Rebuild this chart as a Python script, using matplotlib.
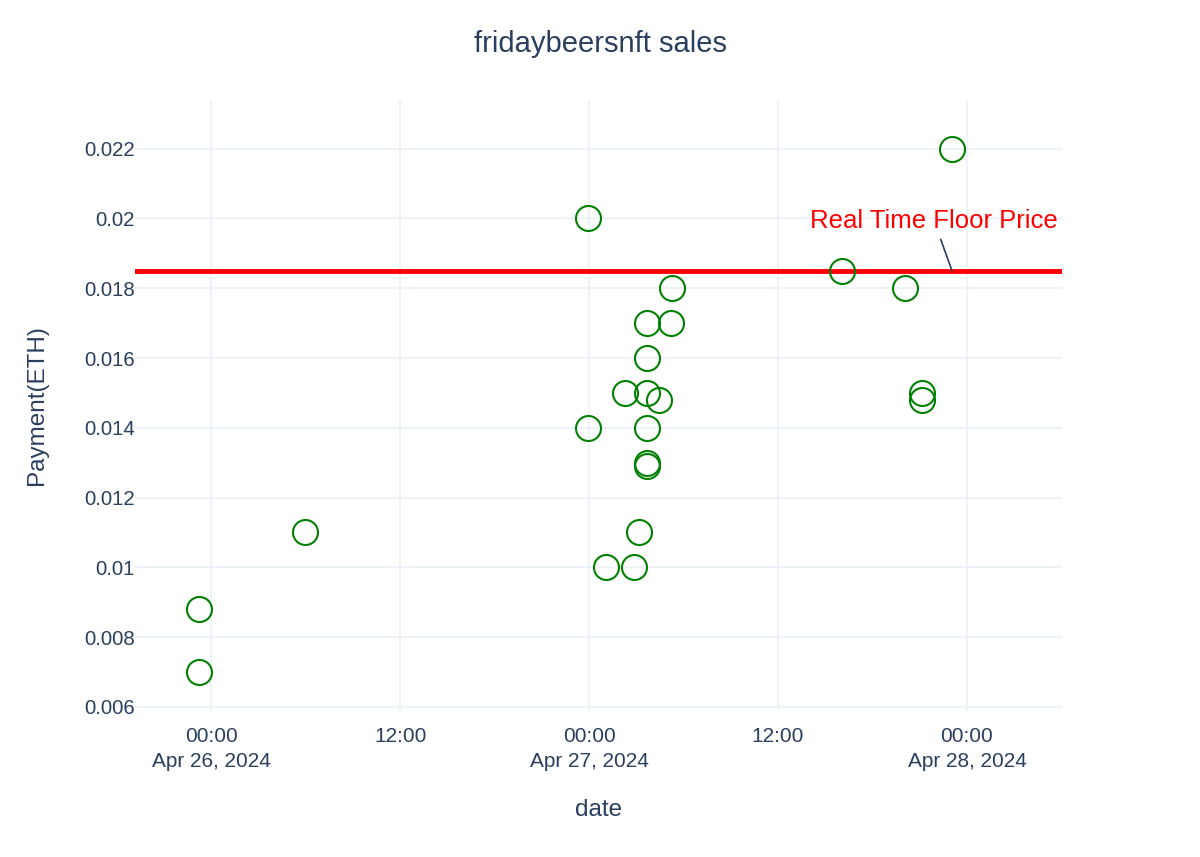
import pandas as pd
import matplotlib
matplotlib.use("Agg")
import matplotlib.pyplot as plt

plt.rcParams["font.family"] = ["Liberation Sans", "DejaVu Sans"]

sale_times = [
    "2024-04-25 23:14", "2024-04-25 23:14", "2024-04-26 05:58",
    "2024-04-26 23:56", "2024-04-26 23:56", "2024-04-27 01:05",
    "2024-04-27 02:17", "2024-04-27 02:52", "2024-04-27 03:10",
    "2024-04-27 03:41", "2024-04-27 03:41", "2024-04-27 03:41",
    "2024-04-27 03:41", "2024-04-27 03:41", "2024-04-27 03:41",
    "2024-04-27 04:27", "2024-04-27 05:16", "2024-04-27 05:14",
    "2024-04-27 16:04", "2024-04-27 20:04", "2024-04-27 21:08",
    "2024-04-27 21:08", "2024-04-27 23:03",
]
payments = [
    0.0088, 0.007, 0.011,
    0.020, 0.014, 0.010,
    0.015, 0.010, 0.011,
    0.017, 0.016, 0.015,
    0.014, 0.013, 0.0129,
    0.0148, 0.018, 0.017,
    0.0185, 0.018, 0.015,
    0.0148, 0.022,
]
floor_price = 0.0185
y_ticks = [0.006, 0.008, 0.01, 0.012, 0.014, 0.016, 0.018, 0.02, 0.022]
y_tick_labels = ["0.006", "0.008", "0.01", "0.012", "0.014", "0.016", "0.018", "0.02", "0.022"]

INK = "#2a3f5f"
GRID = "#ebf0f8"

t = pd.to_datetime(sale_times)

fig = plt.figure(figsize=(12, 8.57), dpi=100)
ax = fig.add_axes([0.1125, 0.1715, 0.7725, 0.712])

ax.plot(t, payments, linestyle="none", marker="o", markersize=18,
        markerfacecolor="none", markeredgecolor="green", markeredgewidth=1.5,
        zorder=3)

x0 = pd.Timestamp("2024-04-25 19:10")
x1 = pd.Timestamp("2024-04-28 06:02")
ax.axhline(floor_price, color="red", linewidth=3.5, zorder=2)
ax.set_xlim(x0, x1)
ax.set_ylim(0.00591, 0.0234)

ax.annotate("Real Time Floor Price",
            xy=(pd.Timestamp("2024-04-27 23:03"), floor_price),
            xytext=(pd.Timestamp("2024-04-27 21:54"), 0.01994),
            textcoords="data", ha="center", va="center",
            color="red", fontsize=18.5,
            arrowprops=dict(arrowstyle="-", color=INK, linewidth=1.2,
                            shrinkA=3, shrinkB=0),
            zorder=4)

ax.set_yticks(y_ticks)
ax.set_yticklabels(y_tick_labels)

ticks = pd.date_range("2024-04-26", "2024-04-28", freq="12h")
ax.set_xticks(ticks)
ax.set_xticklabels([
    ts.strftime("%H:%M") + ("\n" + ts.strftime("%b %d, %Y") if ts.hour == 0 else "")
    for ts in ticks
], linespacing=1.45)

ax.grid(True, color=GRID, linewidth=1.2)
ax.set_axisbelow(True)
for s in ax.spines.values():
    s.set_visible(False)
ax.tick_params(length=0, labelsize=15, colors=INK, pad=12)
ax.tick_params(axis="y", labelsize=14.7, pad=0)

ax.set_xlabel("date", fontsize=17.5, color=INK, labelpad=20)
ax.set_ylabel("Payment(ETH)", fontsize=17.5, color=INK, labelpad=26)
fig.suptitle("fridaybeersnft sales", fontsize=21, color=INK, y=0.965)

fig.savefig("out.png", dpi=100)
